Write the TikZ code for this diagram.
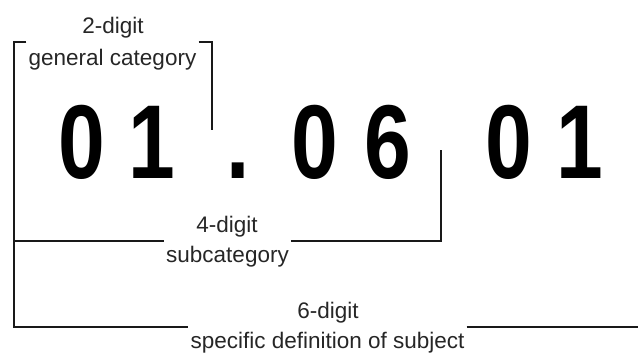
\documentclass[tikz,border=0pt]{standalone}
\usepackage{fontspec}
\setmainfont{Liberation Sans}
\newfontfamily\digitfont[FakeStretch=0.8]{Liberation Sans}
\begin{document}
\begin{tikzpicture}[x=1pt,y=-1pt,
  digit/.style={inner sep=0pt,anchor=base,font=\digitfont\bfseries\fontsize{105}{110}\selectfont,text=black},
  lbl/.style={inner xsep=2pt,inner ysep=0pt,anchor=base,font=\fontsize{22.5}{27}\selectfont,text=black!85},
  brk/.style={line width=2.6pt,line join=miter,draw=black!90}]
\useasboundingbox (0,0) rectangle (638,354);
% digits
\node[digit] (d1) at (82,178) {0};
\node[digit] (d2) at (152,178) {1};
\node[digit] (dot) at (238,178) {.};
\node[digit] (d3) at (315,178) {0};
\node[digit] (d4) at (387.5,178) {6};
\node[digit] (d5) at (509,178) {0};
\node[digit] (d6) at (579.5,178) {1};
% labels
\node[lbl] (l2a) at (113,33) {2-digit};
\node[lbl] (l2b) at (112.5,65) {general category};
\node[lbl] (l4a) at (227,232) {4-digit};
\node[lbl] (l4b) at (227.5,262) {subcategory};
\node[lbl] (l6a) at (328,318) {6-digit};
\node[lbl] (l6b) at (327.5,348) {specific definition of subject};
% bracket coordinates
\coordinate (top) at (14,42);
\coordinate (mid) at (14,241);
\coordinate (bot) at (14,327);
\coordinate (r2) at (212,130);
\coordinate (r4) at (441,150);
\coordinate (r6) at (638,327);
% brackets
\draw[brk] (top -| l2b.west) -- (top) -- (bot) -- (bot -| l6b.west);
\draw[brk] (top -| l2b.east) -- (r2 |- top) -- (r2);
\draw[brk] (mid) -- (mid -| l4b.west);
\draw[brk] (mid -| l4b.east) -- (r4 |- mid) -- (r4);
\draw[brk] (bot -| l6b.east) -- (r6);
\end{tikzpicture}
\end{document}
